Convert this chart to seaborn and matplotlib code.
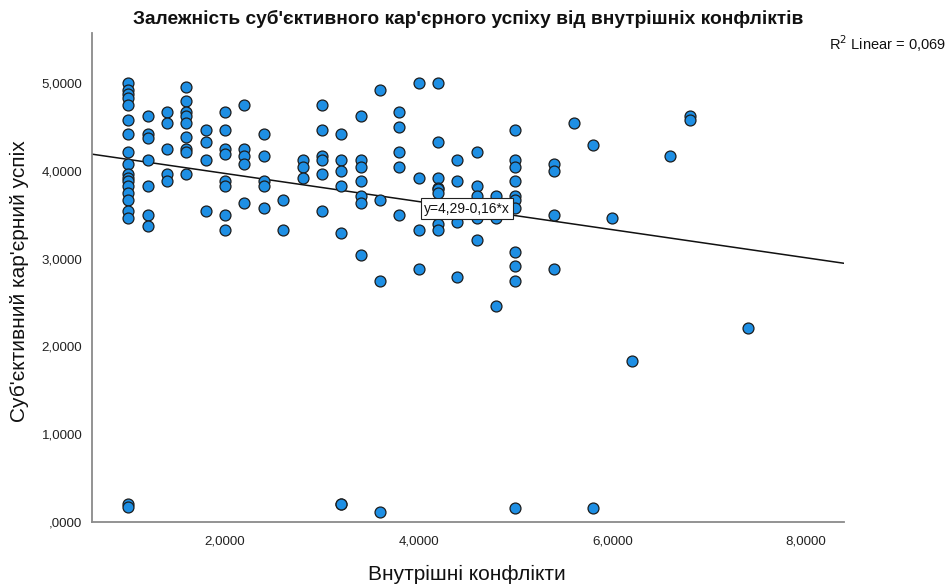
import numpy as np
import pandas as pd
import matplotlib
matplotlib.use("Agg")
import matplotlib.pyplot as plt
import seaborn as sns

# ---- data ----
conflicts = (
    [1.0] * 19 + [1.2] * 7 + [1.4] * 5 + [1.6] * 9 + [1.8] * 4 + [2.0] * 8 +
    [2.2] * 5 + [2.4] * 5 + [2.6] * 2 + [2.8] * 3 + [3.0] * 6 + [3.2] * 7 +
    [3.4] * 7 + [3.6] * 4 + [3.8] * 5 + [4.0] * 4 + [4.2] * 8 + [4.4] * 4 +
    [4.6] * 6 + [4.8] * 3 + [5.0] * 11 + [5.4] * 4 + [5.6] * 1 + [5.8] * 2 +
    [6.0] * 1 + [6.2] * 1 + [6.6] * 1 + [6.8] * 2 + [7.4] * 1
)
success = [
    5.00, 4.92, 4.88, 4.83, 4.75, 4.58, 4.42, 4.21, 4.08, 3.96, 3.92, 3.88, 3.83, 3.75, 3.67, 3.54, 3.46, 0.21, 0.17,
    4.62, 4.42, 4.37, 4.12, 3.83, 3.50, 3.37,
    4.67, 4.54, 4.25, 3.96, 3.88,
    4.96, 4.79, 4.67, 4.63, 4.54, 4.38, 4.25, 4.21, 3.96,
    4.46, 4.33, 4.12, 3.54,
    4.67, 4.46, 4.25, 4.19, 3.88, 3.83, 3.50, 3.33,
    4.75, 4.25, 4.17, 4.08, 3.63,
    4.42, 4.17, 3.88, 3.83, 3.58,
    3.67, 3.33,
    4.12, 4.04, 3.92,
    4.75, 4.46, 4.17, 4.12, 3.96, 3.54,
    4.42, 4.12, 4.00, 3.83, 3.29, 0.21, 0.20,
    4.62, 4.12, 4.04, 3.88, 3.71, 3.63, 3.04,
    4.92, 3.67, 2.75, 0.11,
    4.67, 4.50, 4.21, 4.04, 3.50,
    5.00, 3.92, 3.33, 2.88,
    5.00, 4.33, 3.92, 3.81, 3.79, 3.75, 3.40, 3.33,
    4.12, 3.88, 3.42, 2.79,
    4.21, 3.83, 3.71, 3.58, 3.46, 3.21,
    3.71, 3.46, 2.46,
    4.46, 4.12, 4.04, 3.88, 3.71, 3.67, 3.58, 3.08, 2.92, 2.75, 0.16,
    4.08, 4.00, 3.50, 2.88,
    4.54,
    4.29, 0.16,
    3.46,
    1.83,
    4.17,
    4.63, 4.58,
    2.21,
]
intercept = 4.29
slope = -0.16
r2_text = "0,069"
x_ticks = [2, 4, 6, 8]
x_tick_labels = ["2,0000", "4,0000", "6,0000", "8,0000"]
y_ticks = [0, 1, 2, 3, 4, 5]
y_tick_labels = [",0000", "1,0000", "2,0000", "3,0000", "4,0000", "5,0000"]

title = "Залежність суб'єктивного кар'єрного успіху від внутрішніх конфліктів"
x_label = "Внутрішні конфлікти"
y_label = "Суб'єктивний кар'єрний успіх"

df = pd.DataFrame({"x": conflicts, "y": success})

sns.set_style("white")
plt.rcParams["font.family"] = ["Liberation Sans", "DejaVu Sans"]

fig = plt.figure(figsize=(9.47, 5.87), dpi=100)
ax = fig.add_axes([92 / 947, 65 / 587, (844 - 92) / 947, (522 - 33) / 587])

sns.scatterplot(data=df, x="x", y="y", ax=ax, s=62, color="#1e8fe4",
                edgecolor="#1c1c1c", linewidth=0.9, zorder=3, legend=False)

xlim = (0.625, 8.394)
ylim = (0.0, 5.57)
ax.set_xlim(*xlim)
ax.set_ylim(*ylim)

# fit line across the full axis range
xl = np.array(xlim)
ax.plot(xl, intercept + slope * xl, color="#111111", lw=1.1, zorder=2)

# equation label on the line
xe = 4.5
ax.text(xe, intercept + slope * xe, "y=4,29-0,16*x", ha="center", va="center",
        fontsize=10, color="#111111", zorder=5,
        bbox=dict(boxstyle="square,pad=0.25", fc="white", ec="#222222", lw=0.8))

ax.set_xticks(x_ticks)
ax.set_xticklabels(x_tick_labels)
ax.set_yticks(y_ticks)
ax.set_yticklabels(y_tick_labels)
ax.tick_params(axis="both", length=0, labelsize=9.6, colors="#222222")
ax.tick_params(axis="x", pad=10)
ax.tick_params(axis="y", pad=7)
ax.set_xlabel("")
ax.set_ylabel("")

for s in ["top", "right"]:
    ax.spines[s].set_visible(False)
for s in ["left", "bottom"]:
    ax.spines[s].set_color("#8a8a8a")
    ax.spines[s].set_linewidth(1.3)

fig.text(468 / 947, 1 - 19 / 587, title, ha="center", va="center",
         fontsize=13.8, fontweight="bold", color="#111111")
fig.text(467 / 947, 1 - 574 / 587, x_label, ha="center", va="center",
         fontsize=15, color="#111111")
fig.text(19 / 947, 1 - 281 / 587, y_label, ha="center", va="center",
         rotation=90, fontsize=15, color="#111111")
fig.text(946 / 947, 1 - 44 / 587, "R$^2$ Linear = " + r2_text, ha="right",
         va="center", fontsize=10.5, color="#111111")

fig.savefig("out.png", dpi=100)
